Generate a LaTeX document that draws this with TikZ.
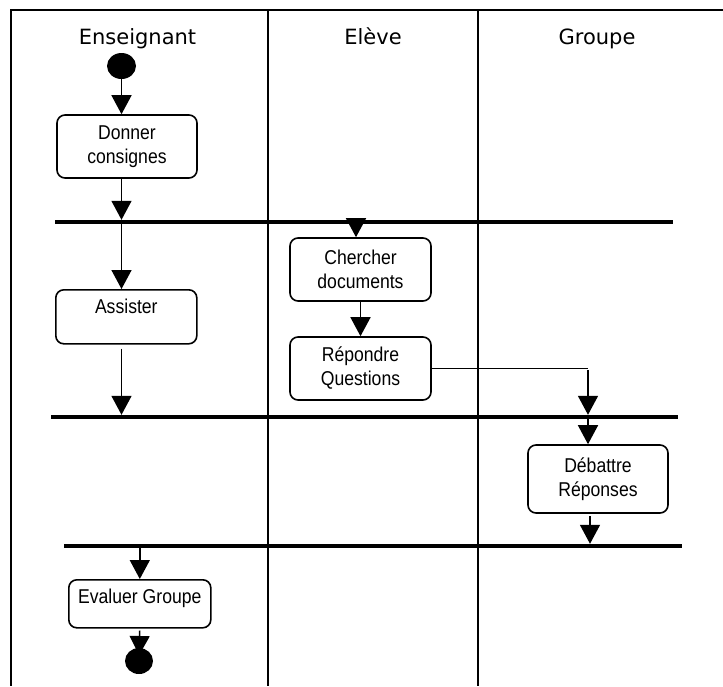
\documentclass[tikz,border=0pt]{standalone}
\usepackage{fontspec}
\setmainfont{Liberation Sans}
\newfontfamily\boxfont[FakeStretch=0.88]{Liberation Sans}
\newfontfamily\headfont{DejaVu Sans}
\usetikzlibrary{arrows.meta,shapes.geometric}
\begin{document}
\begin{tikzpicture}[x=1pt,y=-1pt,
  lane/.style={line width=1.8pt},
  header/.style={font=\headfont\fontsize{21}{25}\selectfont, anchor=base, inner sep=0},
  actbox/.style={draw, line width=1.6pt, rounded corners=8pt, align=center,
    inner sep=0pt, font=\boxfont\fontsize{20}{24}\selectfont},
  forkbar/.style={fill=black, inner sep=0pt, minimum height=4pt},
  dot/.style={ellipse, fill=black, inner sep=0pt},
  flow/.style={line width=1.5pt, -{Triangle[length=19pt,width=20pt]}},
  plain/.style={line width=1.5pt}]
\useasboundingbox (0,0) rectangle (723,686);

% swimlane frame
\draw[lane] (10,10) -- (723,10);
\draw[lane] (11,10) -- (11,686);
\draw[lane] (268,10) -- (268,686);
\draw[lane] (478,10) -- (478,686);

% lane titles
\node[header] (hens) at (137.5,44) {Enseignant};
\node[header] (helv) at (373,44) {Elève};
\node[header] (hgrp) at (597,44) {Groupe};

% start / end
\node[dot, minimum width=29pt, minimum height=26pt] (start) at (121.5,66) {};

% activities
\node[actbox, minimum width=140pt, minimum height=63pt] (don) at (127,146.5) {Donner\\consignes};
\node[actbox, minimum width=141pt, anchor=north west, text height=24pt, text depth=30pt] (assist) at (55,289) {Assister};
\node[actbox, minimum width=141pt, minimum height=63pt] (cherch) at (360.5,269.5) {Chercher\\documents};
\node[actbox, minimum width=141pt, minimum height=63pt] (repond) at (360.5,368.5) {Répondre\\Questions};
\node[actbox, minimum width=140pt, minimum height=68pt] (debat) at (598,479) {Débattre\\Réponses};
\node[actbox, minimum width=142pt, anchor=north west, text height=24pt, text depth=24pt] (evalu) at (68,579) {Evaluer Groupe};

% synchronisation bars
\node[forkbar, minimum width=618pt] (bar1) at (364,222) {};
\node[forkbar, minimum width=627pt] (bar2) at (364.5,417) {};
\node[forkbar, minimum width=618pt] (bar3) at (373,546) {};

% helper points for the right-hand branch
\coordinate (drop) at (588,370);
\coordinate (joinx) at (590,513);

% flows
\draw[flow] (start.south) -- (start.south |- don.north);
\draw[flow] (start |- don.south) -- (start |- bar1.north);
\draw[flow] (start |- bar1.south) -- (start |- assist.north);
\draw[flow, shorten <=4pt] (start |- assist.south) -- (start |- bar2.north);
\draw[flow] ([xshift=-4.5pt]cherch.north |- bar1.south) -- ([xshift=-4.5pt]cherch.north);
\draw[flow] (cherch.south) -- (repond.north);
\draw[plain] (repond.east) -- (repond.east -| drop);
\draw[flow] (drop) -- (drop |- bar2.north);
\draw[flow] (drop |- bar2.south) -- (drop |- debat.north);
\draw[flow, shorten <=2pt] (joinx |- debat.south) -- (joinx |- bar3.north);
\draw[flow] (evalu.north |- bar3.south) -- (evalu.north);

\node[dot, minimum width=28pt, minimum height=26pt] (endc) at (139,661) {};
\draw[flow, shorten <=2pt, shorten >=6pt] (evalu.south) -- (endc.center);
\end{tikzpicture}
\end{document}
